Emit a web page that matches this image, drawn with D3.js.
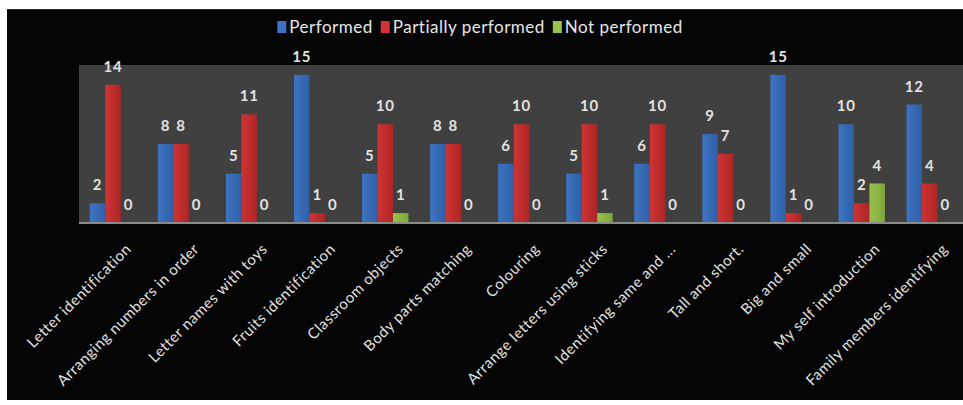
<!DOCTYPE html>
<html>
<head>
<meta charset="utf-8">
<script src="https://cdn.jsdelivr.net/npm/d3@7/dist/d3.min.js"></script>
<style>
  html, body { margin: 0; padding: 0; background: #ffffff; }
  svg { display: block; }
</style>
</head>
<body>
<script>
// Activities assessed and how many children performed each one
const categories = [
  "Letter identification",
  "Arranging numbers in order",
  "Letter names with toys",
  "Fruits identification",
  "Classroom objects",
  "Body parts matching",
  "Colouring",
  "Arrange letters using sticks",
  "Identifying same and ...",
  "Tall and short.",
  "Big and small",
  "My self introduction",
  "Family members identifying"
];
const seriesNames = ["Performed", "Partially performed", "Not performed"];
const performed          = [2, 8, 5, 15, 5, 8, 6, 5, 6, 9, 15, 10, 12];
const partiallyPerformed = [14, 8, 11, 1, 10, 8, 10, 10, 10, 7, 1, 2, 4];
const notPerformed       = [0, 0, 0, 0, 1, 0, 0, 1, 0, 0, 0, 4, 0];
const yDomain = [0, 16];

const seriesValues = [performed, partiallyPerformed, notPerformed];
const colors = ["#3d74c2", "#cf3434", "#98c24c"];
const darker = ["#2f5fa6", "#ad2626", "#7fa63a"];

const W = 963, H = 405;
const frame = { left: 7, top: 9, right: 963, bottom: 400 };
const plot = { left: 79, top: 65, bottom: 223 };
const step = 68.06;
const font = "Lato, 'Open Sans', sans-serif";

const svg = d3.select("body").append("svg")
  .attr("width", W).attr("height", H);

// gradients for the bars
const defs = svg.append("defs");
colors.forEach((c, i) => {
  const g = defs.append("linearGradient").attr("id", "grad" + i)
    .attr("x1", "0%").attr("x2", "100%").attr("y1", "0%").attr("y2", "0%");
  g.append("stop").attr("offset", "0%").attr("stop-color", c);
  g.append("stop").attr("offset", "100%").attr("stop-color", darker[i]);
});

// black chart area
svg.append("rect")
  .attr("x", frame.left).attr("y", frame.top)
  .attr("width", frame.right - frame.left).attr("height", frame.bottom - frame.top)
  .attr("fill", "#050505");
svg.append("line")
  .attr("x1", frame.left).attr("x2", frame.right)
  .attr("y1", frame.top + 0.5).attr("y2", frame.top + 0.5)
  .attr("stroke", "#2a2a2a");

const x0 = d3.scaleBand()
  .domain(categories)
  .range([plot.left, plot.left + step * categories.length])
  .paddingInner(0).paddingOuter(0);

const x1 = d3.scaleBand()
  .domain(seriesNames)
  .range([0, x0.bandwidth()])
  .paddingInner(0).paddingOuter(0.7);

const y = d3.scaleLinear().domain(yDomain).range([plot.bottom, plot.top]);

// plot background
svg.append("rect")
  .attr("x", plot.left).attr("y", plot.top)
  .attr("width", W - plot.left).attr("height", plot.bottom - plot.top)
  .attr("fill", "#404040");

// bars with value labels
const groups = svg.append("g").selectAll("g")
  .data(categories)
  .join("g")
  .attr("transform", d => `translate(${x0(d)},0)`);

groups.each(function(cat, ci) {
  const g = d3.select(this);
  seriesNames.forEach((s, si) => {
    const v = seriesValues[si][ci];
    g.append("rect")
      .attr("x", x1(s))
      .attr("y", y(v))
      .attr("width", x1.bandwidth())
      .attr("height", y(0) - y(v))
      .attr("fill", `url(#grad${si})`);
    g.append("text")
      .attr("x", x1(s) + x1.bandwidth() / 2)
      .attr("y", y(v) - 13)
      .attr("text-anchor", "middle")
      .attr("font-family", font)
      .attr("font-size", 15)
      .attr("font-weight", "bold")
      .attr("letter-spacing", 0.8)
      .attr("fill", "#e2e2e2")
      .text(v);
  });
});

// category axis
const xAxis = svg.append("g")
  .attr("transform", `translate(0,${plot.bottom})`)
  .call(d3.axisBottom(x0).tickSize(0).tickPadding(0));
xAxis.select(".domain")
  .attr("d", `M${plot.left},0H${W}`)
  .attr("stroke", "#8a8a8a").attr("stroke-width", 2);
xAxis.selectAll(".tick text")
  .attr("font-family", font)
  .attr("font-size", 15)
  .attr("letter-spacing", 0.5)
  .attr("fill", "#e0e0e0")
  .attr("text-anchor", "end")
  .attr("dy", 0)
  .attr("transform", "translate(19,27) rotate(-45)");

// legend, centred over the chart
const legend = svg.append("g")
  .attr("font-family", font)
  .attr("font-size", 17)
  .attr("letter-spacing", 0.5)
  .attr("fill", "#e6e6e6");
let lx = 0;
seriesNames.forEach((s, i) => {
  legend.append("rect")
    .attr("x", lx).attr("y", 21).attr("width", 9).attr("height", 12)
    .attr("fill", colors[i]);
  const t = legend.append("text")
    .attr("x", lx + 12).attr("y", 33)
    .text(s);
  lx += 12 + t.node().getComputedTextLength() + 8;
});
legend.attr("transform", `translate(${480 - (lx - 8) / 2},0)`);
</script>
</body>
</html>
